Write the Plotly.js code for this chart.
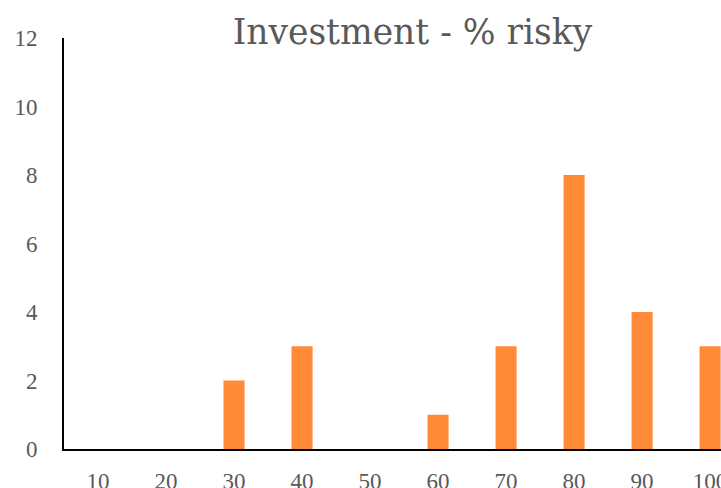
<!DOCTYPE html>
<html>
<head>
<meta charset="utf-8">
<script src="https://cdn.plot.ly/plotly-3.0.1.min.js"></script>
<style>html,body{margin:0;padding:0;background:#fff;overflow:hidden}#chart{width:721px;height:488px}</style>
</head>
<body>
<div id="chart"></div>
<script>
var categories = ["10","20","30","40","50","60","70","80","90","100"];
var values = [0,0,2,3,0,1,3,8,4,3];
var titleText = "Investment - % risky";
var yTicks = [0,2,4,6,8,10,12];

var font = "Liberation Serif, Times New Roman, serif";
var trace = {
  type: "bar",
  x: categories,
  y: values,
  marker: {color: "#FF8A38", line: {width: 0}},
  hoverinfo: "none"
};
var layout = {
  width: 721, height: 488,
  margin: {l: 64, r: 0, t: 38, b: 39, pad: 0},
  paper_bgcolor: "#fff", plot_bgcolor: "#fff",
  showlegend: false,
  bargap: 0.69,
  title: {text: titleText, font: {family: "DejaVu Serif, serif", size: 34.5, color: "#595959"}, x: 0.572, xanchor: "center", y: 0.935, yanchor: "middle"},
  xaxis: {
    type: "category",
    range: [-0.5, 9.16],
    showline: true, linecolor: "#000", linewidth: 2,
    showgrid: false, zeroline: false, ticks: "",
    ticklabelstandoff: 10,
    ticklabeloverflow: "allow",
    tickfont: {family: font, size: 23, color: "#595959"}
  },
  yaxis: {
    range: [0, 12],
    tickvals: yTicks,
    showline: true, linecolor: "#000", linewidth: 2,
    showgrid: false, zeroline: false, ticks: "",
    ticklabelstandoff: 20,
    ticklabeloverflow: "allow",
    tickfont: {family: font, size: 23, color: "#595959"}
  }
};
Plotly.newPlot("chart", [trace], layout, {staticPlot: true, displayModeBar: false});
</script>
</body>
</html>
